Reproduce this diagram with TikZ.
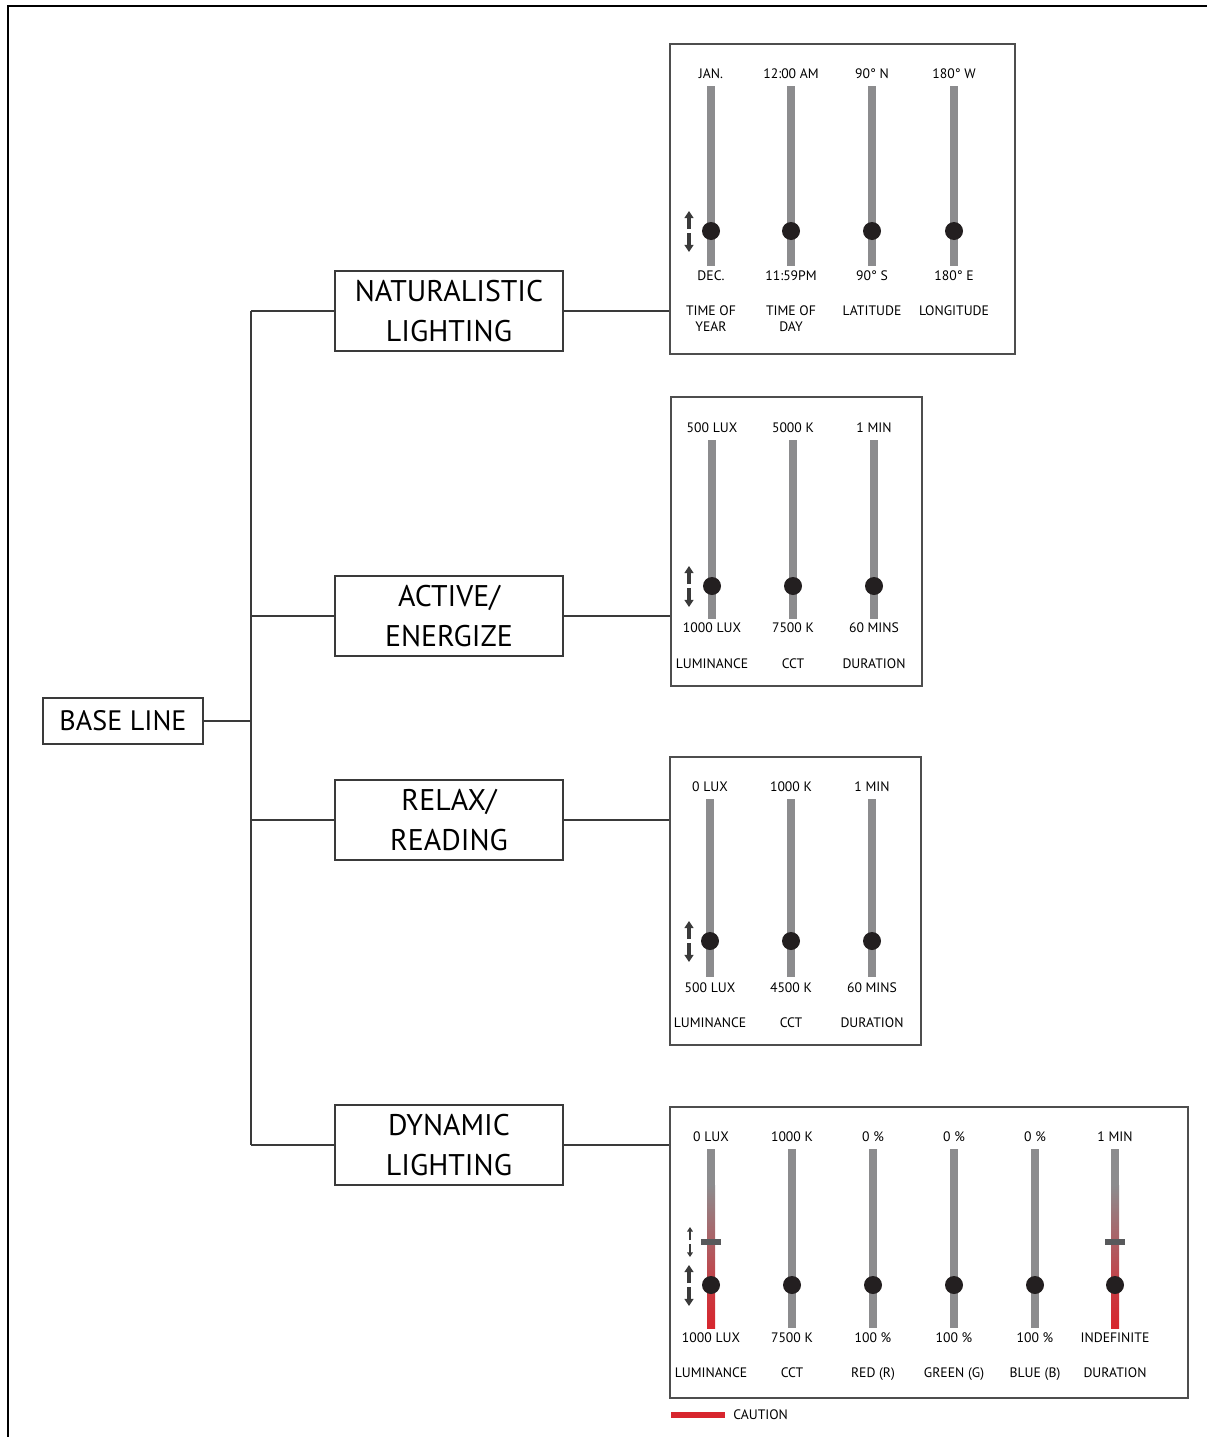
\documentclass[tikz,border=0pt]{standalone}
\usepackage{fontspec}
\setmainfont{PT Sans}
\usetikzlibrary{arrows.meta}
\definecolor{trackgray}{HTML}{8C8C8E}
\definecolor{knobblack}{HTML}{231F20}
\definecolor{cautionred}{HTML}{D7262E}
\definecolor{linegray}{HTML}{3A3A3A}
\definecolor{handlegray}{HTML}{58595B}

\begin{document}
\begin{tikzpicture}[x=0.02cm,y=-0.02cm,
    catbox/.style={draw=linegray,line width=1.1pt,minimum width=4.56cm,minimum height=1.6cm,
      align=center,inner sep=0pt,font=\fontsize{17}{22.5}\selectfont},
    panel/.style={draw=linegray!90,line width=1.1pt,anchor=north west,inner sep=0pt},
    link/.style={draw=linegray,line width=1.1pt},
    track/.style={trackgray,line width=4.5pt},
    val/.style={font=\fontsize{7.8}{9}\selectfont,inner sep=0pt},
    nm/.style={font=\fontsize{7.8}{9.6}\selectfont,inner sep=0pt,align=center,anchor=north},
    updown/.style={linegray,line width=1.8pt,-{Triangle[length=4pt,width=5pt]}},
    thinarr/.style={linegray,line width=0.9pt,-{Triangle[length=2.6pt,width=3.2pt]}}]
  \useasboundingbox (0,0) rectangle (1207,1437);

  % outer frame
  \draw[line width=1.4pt] (8,1437) -- (8,6) -- (1207,6);

  % tree
  \node[draw=linegray,line width=1.1pt,minimum width=3.2cm,minimum height=0.92cm,inner sep=0pt,
    font=\fontsize{16}{19}\selectfont] (base) at (123,721) {BASE LINE};
  \coordinate (trunk) at (251,721);

  \node[catbox] (nat) at (449,311) {NATURALISTIC\\LIGHTING};
  \node[catbox] (act) at (449,616) {ACTIVE/\\ENERGIZE};
  \node[catbox] (rel) at (449,820) {RELAX/\\READING};
  \node[catbox] (dyn) at (449,1145) {DYNAMIC\\LIGHTING};

  \node[panel,minimum width=6.9cm,minimum height=6.2cm] (p1) at (669,43) {};
  \node[panel,minimum width=5.02cm,minimum height=5.78cm] (p2) at (670,396) {};
  \node[panel,minimum width=5.02cm,minimum height=5.76cm] (p3) at (669,756) {};
  \node[panel,minimum width=10.36cm,minimum height=5.82cm] (p4) at (669,1106) {};

  \draw[link] (base.east) -- (trunk);
  \draw[link] (nat.west -| trunk) -- (dyn.west -| trunk);
  \draw[link] (nat.west) -- (nat.west -| trunk);
  \draw[link] (act.west) -- (act.west -| trunk);
  \draw[link] (rel.west) -- (rel.west -| trunk);
  \draw[link] (dyn.west) -- (dyn.west -| trunk);
  \draw[link] (nat.east) -- (nat.east -| p1.west);
  \draw[link] (act.east) -- (act.east -| p2.west);
  \draw[link] (rel.east) -- (rel.east -| p3.west);
  \draw[link] (dyn.east) -- (dyn.east -| p4.west);

  % naturalistic lighting
  \foreach \x/\hi/\lo/\lab [count=\i] in {711/JAN./DEC./TIME OF\\YEAR,
      791/12:00 AM/11:59PM/TIME OF\\DAY, 872/90° N/90° S/LATITUDE, 954/180° W/180° E/LONGITUDE} {
    \draw[track] (\x,86) -- (\x,266);
    \fill[knobblack] (\x,231) circle (0.18cm);
    \node[val] (nat-hi-\i) at (\x,74) {\hi};
    \node[val] (nat-lo-\i) at (\x,276) {\lo};
    \node[nm] (nat-nm-\i) at (\x,305) {\lab};
  }
  \draw[updown] (689,229) -- (689,211);
  \draw[updown] (689,233) -- (689,252);

  % active / energize
  \foreach \x/\hi/\lo/\lab [count=\i] in {712/500 LUX/1000 LUX/LUMINANCE,
      793/5000 K/7500 K/CCT, 874/1 MIN/60 MINS/DURATION} {
    \draw[track] (\x,440) -- (\x,619);
    \fill[knobblack] (\x,586) circle (0.18cm);
    \node[val] (act-hi-\i) at (\x,428) {\hi};
    \node[val] (act-lo-\i) at (\x,628) {\lo};
    \node[nm] (act-nm-\i) at (\x,658) {\lab};
  }
  \draw[updown] (689,584) -- (689,566);
  \draw[updown] (689,588) -- (689,607);

  % relax / reading
  \foreach \x/\hi/\lo/\lab [count=\i] in {710/0 LUX/500 LUX/LUMINANCE,
      791/1000 K/4500 K/CCT, 872/1 MIN/60 MINS/DURATION} {
    \draw[track] (\x,799) -- (\x,977);
    \fill[knobblack] (\x,941) circle (0.18cm);
    \node[val] (rel-hi-\i) at (\x,787) {\hi};
    \node[val] (rel-lo-\i) at (\x,988) {\lo};
    \node[nm] (rel-nm-\i) at (\x,1017) {\lab};
  }
  \draw[updown] (689,939) -- (689,921);
  \draw[updown] (689,943) -- (689,962);

  % dynamic lighting
  \foreach \x/\hi/\lo/\lab [count=\i] in {711/0 LUX/1000 LUX/LUMINANCE,
      792/1000 K/7500 K/CCT, 873/0 \%/100 \%/RED (R), 954/0 \%/100 \%/GREEN (G),
      1035/0 \%/100 \%/BLUE (B), 1115/1 MIN/INDEFINITE/DURATION} {
    \draw[track] (\x,1149) -- (\x,1328);
    \node[val] (dyn-hi-\i) at (\x,1137) {\hi};
    \node[val] (dyn-lo-\i) at (\x,1338) {\lo};
    \node[nm] (dyn-nm-\i) at (\x,1367) {\lab};
  }
  \foreach \x in {711,1115} {
    \shade[top color=trackgray,bottom color=cautionred!80!trackgray] (\x-4,1185) rectangle (\x+4,1290);
    \shade[top color=cautionred!80!trackgray,bottom color=cautionred] (\x-4,1289) rectangle (\x+4,1328);
    \fill[handlegray] (\x-10,1239) rectangle (\x+10,1245);
  }
  \foreach \x in {711,792,873,954,1035,1115}
    \fill[knobblack] (\x,1285) circle (0.18cm);
  \draw[thinarr] (690,1240) -- (690,1227);
  \draw[thinarr] (690,1244) -- (690,1257);
  \draw[updown] (689,1283) -- (689,1265);
  \draw[updown] (689,1287) -- (689,1306);

  % legend
  \fill[cautionred] (671,1412) rectangle (725,1418);
  \node[val,anchor=west] (caution) at (733,1415) {CAUTION};
\end{tikzpicture}
\end{document}
